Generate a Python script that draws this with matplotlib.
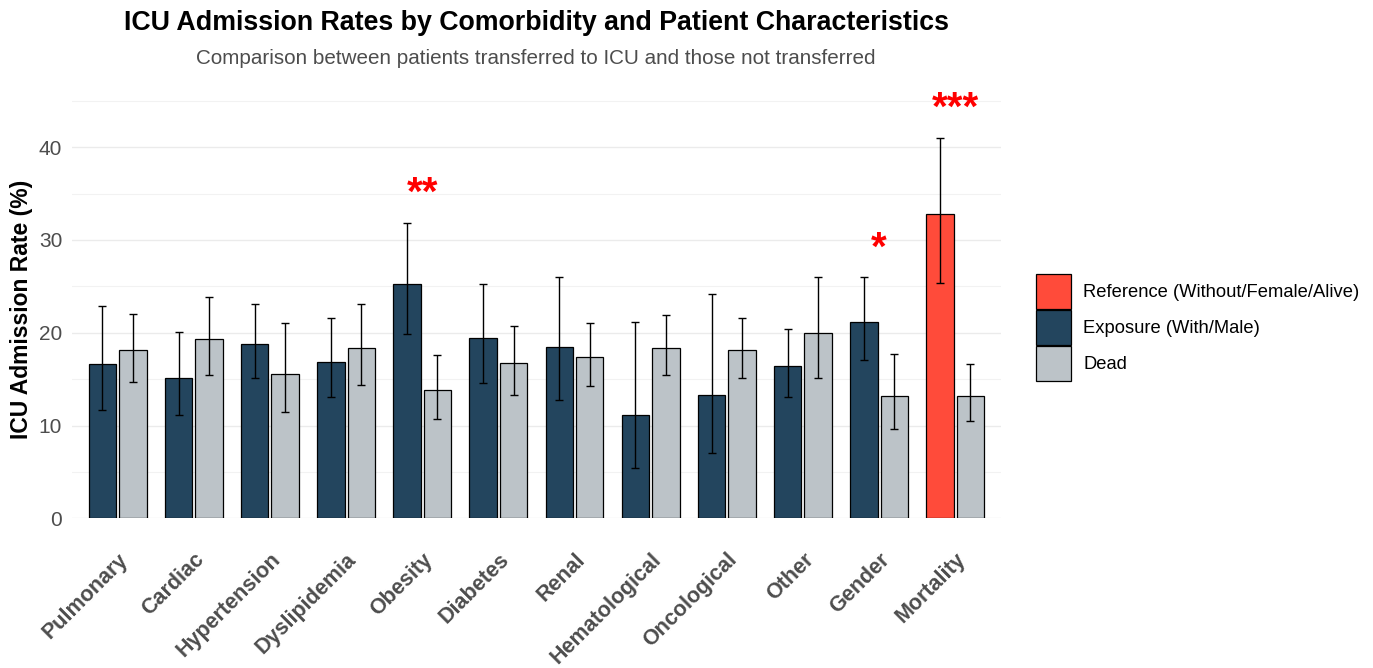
import numpy as np
import matplotlib.pyplot as plt
from matplotlib.patches import Patch

plt.rcParams['font.family'] = ['Liberation Sans', 'DejaVu Sans']

categories = ['Pulmonary', 'Cardiac', 'Hypertension', 'Dyslipidemia', 'Obesity', 'Diabetes',
              'Renal', 'Hematological', 'Oncological', 'Other', 'Gender', 'Mortality']

# first bar of each pair (exposure, or reference for mortality)
first_vals = [16.6, 15.1, 18.8, 16.9, 25.3, 19.4, 18.5, 11.1, 13.3, 16.4, 21.2, 32.8]
first_lo = [11.7, 11.1, 15.1, 13.1, 19.9, 14.6, 12.8, 5.4, 7.0, 13.1, 17.1, 25.4]
first_hi = [22.9, 20.1, 23.1, 21.6, 31.8, 25.3, 26.0, 21.2, 24.2, 20.4, 26.0, 41.0]
first_group = ['Exposure'] * 11 + ['Reference']

# second bar of each pair (dead)
second_vals = [18.1, 19.3, 15.6, 18.4, 13.8, 16.7, 17.4, 18.4, 18.1, 20.0, 13.2, 13.2]
second_lo = [14.7, 15.5, 11.5, 14.4, 10.7, 13.3, 14.3, 15.4, 15.1, 15.1, 9.6, 10.5]
second_hi = [22.0, 23.8, 21.1, 23.1, 17.6, 20.7, 21.1, 21.9, 21.6, 26.0, 17.7, 16.6]

# significance markers: (category, label, y position)
stars = [('Obesity', '**', 35.0), ('Gender', '*', 29.1), ('Mortality', '***', 44.1)]

colors = {'Reference': '#FF4B3A', 'Exposure': '#23455E', 'Dead': '#BCC3C8'}
legend_labels = {'Reference': 'Reference (Without/Female/Alive)',
                 'Exposure': 'Exposure (With/Male)',
                 'Dead': 'Dead'}

fig = plt.figure(figsize=(13.73, 6.68), dpi=100)
ax = fig.add_axes([0.0524, 0.224, 0.6766, 0.653])

x = np.arange(len(categories))
w = 0.36
off = 0.2

ax.bar(x - off, first_vals, w, color=[colors[g] for g in first_group],
       edgecolor='black', linewidth=0.9, zorder=2)
ax.bar(x + off, second_vals, w, color=colors['Dead'],
       edgecolor='black', linewidth=0.9, zorder=2)

f = np.array(first_vals)
s = np.array(second_vals)
ax.errorbar(x - off, f, yerr=[f - np.array(first_lo), np.array(first_hi) - f],
            fmt='none', ecolor='black', elinewidth=1, capsize=2.8, capthick=1, zorder=3)
ax.errorbar(x + off, s, yerr=[s - np.array(second_lo), np.array(second_hi) - s],
            fmt='none', ecolor='black', elinewidth=1, capsize=2.8, capthick=1, zorder=3)

for cat, lab, yy in stars:
    ax.text(categories.index(cat), yy, lab, color='red', fontsize=29, fontweight='bold',
            ha='center', va='center', zorder=4)

ax.set_xlim(-0.6, len(categories) - 0.4)
ax.set_ylim(0, 47)
ax.set_yticks([0, 10, 20, 30, 40])
ax.set_yticks([5, 15, 25, 35, 45], minor=True)
ax.grid(axis='y', which='major', color='#EBEBEB', linewidth=1, zorder=0)
ax.grid(axis='y', which='minor', color='#F2F2F2', linewidth=0.8, zorder=0)
ax.set_axisbelow(True)
for sp in ax.spines.values():
    sp.set_visible(False)
ax.tick_params(axis='both', which='both', length=0)
ax.tick_params(axis='y', labelsize=15, labelcolor='#4D4D4D', pad=7)

ax.set_xticks(x)
ax.set_xticklabels(categories, rotation=45, ha='right', va='top', rotation_mode='anchor',
                   fontsize=15.5, fontweight='bold', color='#4D4D4D')
ax.tick_params(axis='x', pad=22)

ax.set_ylabel('ICU Admission Rate (%)', fontsize=16.5, fontweight='bold')
ax.yaxis.set_label_coords(-0.042, 0.478)

fig.text(0.3905, 0.965, 'ICU Admission Rates by Comorbidity and Patient Characteristics',
         ha='center', va='center', fontsize=19.3, fontweight='bold')
fig.text(0.3905, 0.913, 'Comparison between patients transferred to ICU and those not transferred',
         ha='center', va='center', fontsize=14.9, color='#4D4D4D')

handles = [Patch(facecolor=colors[k], edgecolor='black', linewidth=0.9) for k in colors]
fig.legend(handles, [legend_labels[k] for k in colors], loc='center left',
           bbox_to_anchor=(0.7476, 0.51), frameon=False, fontsize=13.2,
           handlelength=1.91, handleheight=2.56, labelspacing=0.05, handletextpad=0.7,
           borderpad=0)

fig.savefig('out.png', dpi=100, facecolor='white')
